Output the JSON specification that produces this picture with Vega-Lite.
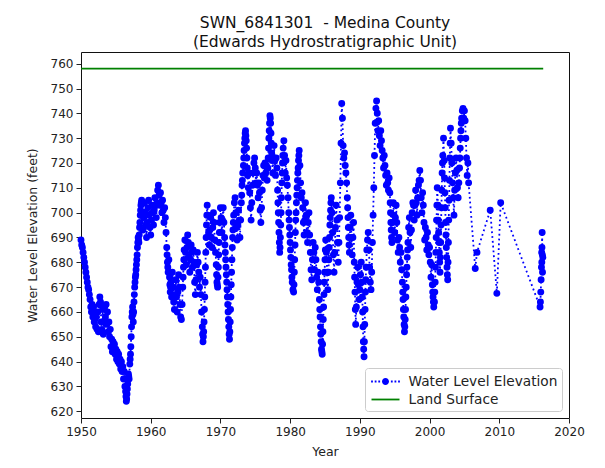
{
 "$schema": "https://vega.github.io/schema/vega-lite/v6.json",
 "width": 488,
 "height": 366,
 "autosize": {"type": "none"},
 "padding": {"left": 81, "top": 52, "right": 36, "bottom": 50},
 "background": "white",
 "title": {"text": ["SWN_6841301\u00a0 - Medina County", "(Edwards Hydrostratigraphic Unit)"], "font": "DejaVu Sans", "fontSize": 15.5, "fontWeight": "normal", "color": "#111", "lineHeight": 19, "offset": 2, "anchor": "middle"},
 "config": {
  "view": {"stroke": "#111", "strokeWidth": 1},
  "axis": {"grid": false, "domain": false, "labelFlush": false, "labelFont": "DejaVu Sans", "labelFontSize": 12, "labelColor": "#222", "titleFont": "DejaVu Sans", "titleFontSize": 12.5, "titleFontWeight": "normal", "titleColor": "#222", "tickColor": "#222", "tickSize": 5},
  "legend": {"orient": "bottom-right", "offset": 7, "padding": 4.5, "fillColor": "white", "strokeColor": "#cccccc", "cornerRadius": 3, "labelFont": "DejaVu Sans", "labelFontSize": 13.7, "labelColor": "#222", "symbolSize": 324, "symbolOffset": 7, "labelOffset": 14, "symbolStrokeWidth": 0, "symbolOpacity": 1, "rowPadding": 2}
 },
 "datasets": {
  "land": [{"year": 1950, "level": 758, "series": "Land Surface"}, {"year": 2016.3, "level": 758, "series": "Land Surface"}],
  "water": [
{"year":1950.0,"level":689},{"year":1950.1,"level":687},{"year":1950.2,"level":686},{"year":1950.3,"level":684},{"year":1950.4,"level":682},{"year":1950.5,"level":680},{"year":1950.6,"level":678},{"year":1950.7,"level":676},{"year":1950.8,"level":674},{"year":1950.9,"level":672},
{"year":1951.0,"level":670},{"year":1951.1,"level":669},{"year":1951.2,"level":667},{"year":1951.3,"level":665},{"year":1951.4,"level":662},{"year":1951.5,"level":660},{"year":1951.6,"level":663},{"year":1951.7,"level":658},{"year":1951.8,"level":662},{"year":1951.9,"level":656},
{"year":1952.0,"level":660},{"year":1952.1,"level":654},{"year":1952.2,"level":658},{"year":1952.3,"level":653},{"year":1952.4,"level":660},{"year":1952.5,"level":652},{"year":1952.6,"level":663},{"year":1952.7,"level":666},{"year":1952.8,"level":664},{"year":1952.9,"level":656},
{"year":1953.0,"level":653},{"year":1953.1,"level":661},{"year":1953.2,"level":651},{"year":1953.3,"level":656},{"year":1953.4,"level":662},{"year":1953.5,"level":658},{"year":1953.6,"level":663},{"year":1953.7,"level":655},{"year":1953.8,"level":660},{"year":1953.9,"level":652},
{"year":1954.0,"level":656},{"year":1954.1,"level":650},{"year":1954.2,"level":653},{"year":1954.3,"level":646},{"year":1954.4,"level":649},{"year":1954.5,"level":644},{"year":1954.6,"level":648},{"year":1954.7,"level":645},{"year":1954.8,"level":647},{"year":1954.9,"level":643},
{"year":1955.0,"level":645},{"year":1955.1,"level":641},{"year":1955.2,"level":644},{"year":1955.3,"level":640},{"year":1955.4,"level":643},{"year":1955.5,"level":639},{"year":1955.6,"level":641},{"year":1955.7,"level":637},{"year":1955.8,"level":640},{"year":1955.9,"level":636},
{"year":1956.0,"level":638},{"year":1956.1,"level":633},{"year":1956.2,"level":636},{"year":1956.3,"level":630},{"year":1956.4,"level":628},{"year":1956.5,"level":624},{"year":1956.6,"level":627},{"year":1956.7,"level":631},{"year":1956.8,"level":635},{"year":1956.9,"level":633},
{"year":1957.0,"level":639},{"year":1957.1,"level":643},{"year":1957.2,"level":650},{"year":1957.3,"level":658},{"year":1957.4,"level":662},{"year":1957.5,"level":656},{"year":1957.6,"level":664},{"year":1957.7,"level":670},{"year":1957.8,"level":674},{"year":1957.9,"level":677},
{"year":1958.0,"level":681},{"year":1958.1,"level":686},{"year":1958.2,"level":690},{"year":1958.3,"level":688},{"year":1958.4,"level":694},{"year":1958.5,"level":699},{"year":1958.6,"level":703},{"year":1958.7,"level":705},{"year":1958.8,"level":699},{"year":1958.9,"level":693},
{"year":1959.0,"level":698},{"year":1959.1,"level":704},{"year":1959.2,"level":700},{"year":1959.3,"level":695},{"year":1959.4,"level":690},{"year":1959.5,"level":696},{"year":1959.6,"level":702},{"year":1959.7,"level":705},{"year":1959.8,"level":699},{"year":1959.9,"level":694},
{"year":1960.0,"level":691},{"year":1960.1,"level":697},{"year":1960.2,"level":703},{"year":1960.3,"level":700},{"year":1960.4,"level":695},{"year":1960.5,"level":701},{"year":1960.6,"level":706},{"year":1960.7,"level":703},{"year":1960.8,"level":698},{"year":1960.9,"level":704},
{"year":1961.0,"level":709},{"year":1961.1,"level":711},{"year":1961.2,"level":707},{"year":1961.3,"level":703},{"year":1961.4,"level":708},{"year":1961.5,"level":704},{"year":1961.6,"level":700},{"year":1961.7,"level":705},{"year":1961.8,"level":701},{"year":1961.9,"level":696},
{"year":1962.0,"level":702},{"year":1962.1,"level":698},{"year":1962.2,"level":692},{"year":1962.3,"level":686},{"year":1962.4,"level":680},{"year":1962.5,"level":676},{"year":1962.6,"level":681},{"year":1962.7,"level":674},{"year":1962.8,"level":668},{"year":1962.9,"level":672},
{"year":1963.0,"level":666},{"year":1963.1,"level":676},{"year":1963.2,"level":670},{"year":1963.3,"level":664},{"year":1963.4,"level":661},{"year":1963.5,"level":667},{"year":1963.6,"level":673},{"year":1963.7,"level":666},{"year":1963.8,"level":660},{"year":1963.9,"level":668},
{"year":1964.0,"level":675},{"year":1964.1,"level":670},{"year":1964.2,"level":663},{"year":1964.3,"level":658},{"year":1964.4,"level":657},{"year":1964.5,"level":663},{"year":1964.6,"level":670},{"year":1964.7,"level":678},{"year":1964.8,"level":685},{"year":1964.9,"level":689},
{"year":1965.0,"level":684},{"year":1965.1,"level":679},{"year":1965.2,"level":686},{"year":1965.3,"level":691},{"year":1965.4,"level":688},{"year":1965.5,"level":682},{"year":1965.6,"level":676},{"year":1965.7,"level":681},{"year":1965.8,"level":687},{"year":1965.9,"level":684},
{"year":1966.0,"level":678},{"year":1966.1,"level":685},{"year":1966.2,"level":680},{"year":1966.3,"level":672},{"year":1966.4,"level":667},{"year":1966.5,"level":673},{"year":1966.6,"level":679},{"year":1966.7,"level":684},{"year":1966.8,"level":680},{"year":1966.9,"level":676},
{"year":1967.0,"level":670},{"year":1967.1,"level":674},{"year":1967.2,"level":667},{"year":1967.3,"level":660},{"year":1967.4,"level":654},{"year":1967.5,"level":648},{"year":1967.6,"level":652},{"year":1967.7,"level":661},{"year":1967.8,"level":672},{"year":1967.9,"level":684},
{"year":1968.0,"level":695},{"year":1968.1,"level":703},{"year":1968.2,"level":699},{"year":1968.3,"level":692},{"year":1968.4,"level":687},{"year":1968.5,"level":693},{"year":1968.6,"level":698},{"year":1968.7,"level":690},{"year":1968.8,"level":686},{"year":1968.9,"level":694},
{"year":1969.0,"level":700},{"year":1969.1,"level":696},{"year":1969.2,"level":689},{"year":1969.3,"level":684},{"year":1969.4,"level":679},{"year":1969.5,"level":672},{"year":1969.6,"level":670},{"year":1969.7,"level":678},{"year":1969.8,"level":688},{"year":1969.9,"level":696},
{"year":1970.0,"level":702},{"year":1970.1,"level":698},{"year":1970.2,"level":692},{"year":1970.3,"level":697},{"year":1970.4,"level":702},{"year":1970.5,"level":696},{"year":1970.6,"level":690},{"year":1970.7,"level":684},{"year":1970.8,"level":678},{"year":1970.9,"level":672},
{"year":1971.0,"level":666},{"year":1971.1,"level":660},{"year":1971.2,"level":654},{"year":1971.3,"level":649},{"year":1971.4,"level":656},{"year":1971.5,"level":666},{"year":1971.6,"level":676},{"year":1971.7,"level":686},{"year":1971.8,"level":693},{"year":1971.9,"level":699},
{"year":1972.0,"level":704},{"year":1972.1,"level":706},{"year":1972.2,"level":700},{"year":1972.3,"level":694},{"year":1972.4,"level":689},{"year":1972.5,"level":695},{"year":1972.6,"level":701},{"year":1972.7,"level":697},{"year":1972.8,"level":690},{"year":1972.9,"level":697},
{"year":1973.0,"level":704},{"year":1973.1,"level":711},{"year":1973.2,"level":716},{"year":1973.3,"level":719},{"year":1973.4,"level":725},{"year":1973.5,"level":730},{"year":1973.6,"level":733},{"year":1973.7,"level":729},{"year":1973.8,"level":722},{"year":1973.9,"level":715},
{"year":1974.0,"level":710},{"year":1974.1,"level":716},{"year":1974.2,"level":708},{"year":1974.3,"level":702},{"year":1974.4,"level":697},{"year":1974.5,"level":704},{"year":1974.6,"level":711},{"year":1974.7,"level":716},{"year":1974.8,"level":720},{"year":1974.9,"level":722},
{"year":1975.0,"level":718},{"year":1975.1,"level":712},{"year":1975.2,"level":716},{"year":1975.3,"level":711},{"year":1975.4,"level":706},{"year":1975.5,"level":712},{"year":1975.6,"level":708},{"year":1975.7,"level":701},{"year":1975.8,"level":696},{"year":1975.9,"level":702},
{"year":1976.0,"level":709},{"year":1976.1,"level":715},{"year":1976.2,"level":719},{"year":1976.3,"level":714},{"year":1976.4,"level":720},{"year":1976.5,"level":716},{"year":1976.6,"level":719},{"year":1976.7,"level":713},{"year":1976.8,"level":718},{"year":1976.9,"level":726},
{"year":1977.0,"level":733},{"year":1977.1,"level":739},{"year":1977.2,"level":736},{"year":1977.3,"level":728},{"year":1977.4,"level":721},{"year":1977.5,"level":716},{"year":1977.6,"level":722},{"year":1977.7,"level":727},{"year":1977.8,"level":721},{"year":1977.9,"level":715},
{"year":1978.0,"level":722},{"year":1978.1,"level":718},{"year":1978.2,"level":709},{"year":1978.3,"level":700},{"year":1978.4,"level":692},{"year":1978.5,"level":684},{"year":1978.6,"level":690},{"year":1978.7,"level":700},{"year":1978.8,"level":712},{"year":1978.9,"level":720},
{"year":1979.0,"level":726},{"year":1979.1,"level":729},{"year":1979.2,"level":723},{"year":1979.3,"level":716},{"year":1979.4,"level":721},{"year":1979.5,"level":714},{"year":1979.6,"level":711},{"year":1979.7,"level":706},{"year":1979.8,"level":700},{"year":1979.9,"level":694},
{"year":1980.0,"level":688},{"year":1980.1,"level":682},{"year":1980.2,"level":677},{"year":1980.3,"level":672},{"year":1980.4,"level":669},{"year":1980.5,"level":668},{"year":1980.6,"level":676},{"year":1980.7,"level":687},{"year":1980.8,"level":697},{"year":1980.9,"level":704},
{"year":1981.0,"level":710},{"year":1981.1,"level":716},{"year":1981.2,"level":721},{"year":1981.3,"level":725},{"year":1981.4,"level":719},{"year":1981.5,"level":712},{"year":1981.6,"level":706},{"year":1981.7,"level":708},{"year":1981.8,"level":702},{"year":1981.9,"level":696},
{"year":1982.0,"level":691},{"year":1982.1,"level":697},{"year":1982.2,"level":704},{"year":1982.3,"level":699},{"year":1982.4,"level":692},{"year":1982.5,"level":688},{"year":1982.6,"level":696},{"year":1982.7,"level":700},{"year":1982.8,"level":691},{"year":1982.9,"level":684},
{"year":1983.0,"level":677},{"year":1983.1,"level":673},{"year":1983.2,"level":681},{"year":1983.3,"level":688},{"year":1983.4,"level":684},{"year":1983.5,"level":677},{"year":1983.6,"level":686},{"year":1983.7,"level":681},{"year":1983.8,"level":674},{"year":1983.9,"level":669},
{"year":1984.0,"level":676},{"year":1984.1,"level":672},{"year":1984.2,"level":665},{"year":1984.3,"level":658},{"year":1984.4,"level":651},{"year":1984.5,"level":645},{"year":1984.6,"level":643},{"year":1984.7,"level":652},{"year":1984.8,"level":662},{"year":1984.9,"level":672},
{"year":1985.0,"level":681},{"year":1985.1,"level":689},{"year":1985.2,"level":684},{"year":1985.3,"level":676},{"year":1985.4,"level":669},{"year":1985.5,"level":676},{"year":1985.6,"level":686},{"year":1985.7,"level":695},{"year":1985.8,"level":701},{"year":1985.9,"level":706},
{"year":1986.0,"level":700},{"year":1986.1,"level":692},{"year":1986.2,"level":683},{"year":1986.3,"level":676},{"year":1986.4,"level":684},{"year":1986.5,"level":694},{"year":1986.6,"level":703},{"year":1986.7,"level":697},{"year":1986.8,"level":688},{"year":1986.9,"level":680},
{"year":1987.0,"level":688},{"year":1987.1,"level":698},{"year":1987.2,"level":712},{"year":1987.3,"level":728},{"year":1987.4,"level":744},{"year":1987.5,"level":738},{"year":1987.6,"level":727},{"year":1987.7,"level":722},{"year":1987.8,"level":724},{"year":1987.9,"level":719},
{"year":1988.0,"level":716},{"year":1988.1,"level":712},{"year":1988.2,"level":706},{"year":1988.3,"level":698},{"year":1988.4,"level":690},{"year":1988.5,"level":684},{"year":1988.6,"level":694},{"year":1988.7,"level":699},{"year":1988.8,"level":690},{"year":1988.9,"level":683},
{"year":1989.0,"level":690},{"year":1989.1,"level":696},{"year":1989.2,"level":680},{"year":1989.3,"level":668},{"year":1989.4,"level":655},{"year":1989.5,"level":662},{"year":1989.6,"level":672},{"year":1989.7,"level":678},{"year":1989.8,"level":671},{"year":1989.9,"level":665},
{"year":1990.0,"level":669},{"year":1990.1,"level":675},{"year":1990.2,"level":680},{"year":1990.3,"level":672},{"year":1990.4,"level":660},{"year":1990.5,"level":648},{"year":1990.6,"level":642},{"year":1990.7,"level":655},{"year":1990.8,"level":668},{"year":1990.9,"level":678},
{"year":1991.0,"level":685},{"year":1991.1,"level":689},{"year":1991.2,"level":692},{"year":1991.3,"level":685},{"year":1991.4,"level":678},{"year":1991.5,"level":672},{"year":1991.6,"level":669},{"year":1991.7,"level":676},{"year":1991.8,"level":688},{"year":1991.9,"level":699},
{"year":1992.0,"level":710},{"year":1992.1,"level":723},{"year":1992.2,"level":736},{"year":1992.3,"level":742},{"year":1992.4,"level":745},{"year":1992.5,"level":740},{"year":1992.6,"level":733},{"year":1992.7,"level":737},{"year":1992.8,"level":731},{"year":1992.9,"level":727},
{"year":1993.0,"level":733},{"year":1993.1,"level":729},{"year":1993.2,"level":725},{"year":1993.3,"level":722},{"year":1993.4,"level":718},{"year":1993.5,"level":723},{"year":1993.6,"level":719},{"year":1993.7,"level":715},{"year":1993.8,"level":711},{"year":1993.9,"level":716},
{"year":1994.0,"level":712},{"year":1994.1,"level":709},{"year":1994.2,"level":714},{"year":1994.3,"level":708},{"year":1994.4,"level":700},{"year":1994.5,"level":693},{"year":1994.6,"level":688},{"year":1994.7,"level":696},{"year":1994.8,"level":704},{"year":1994.9,"level":699},
{"year":1995.0,"level":692},{"year":1995.1,"level":698},{"year":1995.2,"level":703},{"year":1995.3,"level":696},{"year":1995.4,"level":689},{"year":1995.5,"level":684},{"year":1995.6,"level":690},{"year":1995.7,"level":686},{"year":1995.8,"level":680},{"year":1995.9,"level":684},
{"year":1996.0,"level":677},{"year":1996.1,"level":672},{"year":1996.2,"level":665},{"year":1996.3,"level":658},{"year":1996.4,"level":652},{"year":1996.5,"level":657},{"year":1996.6,"level":666},{"year":1996.7,"level":675},{"year":1996.8,"level":682},{"year":1996.9,"level":688},
{"year":1997.0,"level":694},{"year":1997.1,"level":698},{"year":1997.2,"level":692},{"year":1997.3,"level":686},{"year":1997.4,"level":693},{"year":1997.5,"level":700},{"year":1997.6,"level":704},{"year":1997.7,"level":703},{"year":1997.8,"level":697},{"year":1997.9,"level":703},
{"year":1998.0,"level":709},{"year":1998.1,"level":704},{"year":1998.2,"level":699},{"year":1998.3,"level":706},{"year":1998.4,"level":711},{"year":1998.5,"level":713},{"year":1998.6,"level":717},{"year":1998.7,"level":713},{"year":1998.8,"level":706},{"year":1998.9,"level":700},
{"year":1999.0,"level":708},{"year":1999.1,"level":703},{"year":1999.2,"level":696},{"year":1999.3,"level":689},{"year":1999.4,"level":694},{"year":1999.5,"level":690},{"year":1999.6,"level":685},{"year":1999.7,"level":692},{"year":1999.8,"level":687},{"year":1999.9,"level":683},
{"year":2000.0,"level":686},{"year":2000.1,"level":680},{"year":2000.2,"level":674},{"year":2000.3,"level":679},{"year":2000.4,"level":671},{"year":2000.5,"level":666},{"year":2000.6,"level":662},{"year":2000.7,"level":664},{"year":2000.8,"level":672},{"year":2000.9,"level":684},
{"year":2001.0,"level":697},{"year":2001.1,"level":710},{"year":2001.2,"level":703},{"year":2001.3,"level":692},{"year":2001.4,"level":684},{"year":2001.5,"level":676},{"year":2001.6,"level":688},{"year":2001.7,"level":702},{"year":2001.8,"level":716},{"year":2001.9,"level":723},
{"year":2002.0,"level":730},{"year":2002.1,"level":721},{"year":2002.2,"level":708},{"year":2002.3,"level":696},{"year":2002.4,"level":686},{"year":2002.5,"level":678},{"year":2002.6,"level":673},{"year":2002.7,"level":688},{"year":2002.8,"level":705},{"year":2002.9,"level":722},
{"year":2003.0,"level":734},{"year":2003.1,"level":728},{"year":2003.2,"level":720},{"year":2003.3,"level":712},{"year":2003.4,"level":706},{"year":2003.5,"level":699},{"year":2003.6,"level":709},{"year":2003.7,"level":716},{"year":2003.8,"level":722},{"year":2003.9,"level":717},
{"year":2004.0,"level":710},{"year":2004.1,"level":706},{"year":2004.2,"level":712},{"year":2004.3,"level":718},{"year":2004.4,"level":726},{"year":2004.5,"level":733},{"year":2004.6,"level":738},{"year":2004.7,"level":741},{"year":2004.8,"level":742},{"year":2004.9,"level":738},
{"year":2005.0,"level":741},{"year":2005.1,"level":737},{"year":2005.2,"level":730},{"year":2005.3,"level":722},{"year":2005.4,"level":715},{"year":2005.5,"level":720},{"year":2005.6,"level":712},
{"year":2006.55,"level":677.5},{"year":2006.8,"level":684},{"year":2008.7,"level":701},{"year":2009.65,"level":667.5},{"year":2010.2,"level":704},
{"year":2015.85,"level":662},{"year":2015.9,"level":664},{"year":2015.95,"level":668},{"year":2016.0,"level":673},{"year":2016.05,"level":678},{"year":2016.08,"level":684},{"year":2016.1,"level":680},{"year":2016.12,"level":686},{"year":2016.15,"level":692},{"year":2016.18,"level":683},{"year":2016.2,"level":676},{"year":2016.25,"level":682},
{"year":1956.45,"level":626},{"year":1956.55,"level":625},{"year":1956.65,"level":629},{"year":1956.75,"level":633},{"year":1956.85,"level":634},
{"year":1957.05,"level":641},{"year":1957.15,"level":646},{"year":1957.25,"level":654},{"year":1957.35,"level":660},{"year":1957.45,"level":659},{"year":1957.55,"level":660},{"year":1957.65,"level":667},{"year":1957.75,"level":672},{"year":1957.85,"level":675},{"year":1957.95,"level":679},
{"year":1958.05,"level":683},{"year":1958.15,"level":688},{"year":1958.25,"level":689},{"year":1958.35,"level":691},{"year":1958.45,"level":696},{"year":1958.55,"level":701},{"year":1958.65,"level":704},
{"year":1962.35,"level":683},{"year":1962.45,"level":678},{"year":1962.75,"level":671},{"year":1962.85,"level":670},{"year":1964.65,"level":674},{"year":1964.75,"level":681},
{"year":1967.45,"level":651},{"year":1967.55,"level":650},{"year":1967.65,"level":656},{"year":1967.75,"level":666},{"year":1967.85,"level":678},{"year":1967.95,"level":690},{"year":1968.05,"level":699},
{"year":1969.45,"level":675},{"year":1969.55,"level":671},{"year":1969.65,"level":674},{"year":1969.75,"level":683},{"year":1969.85,"level":692},
{"year":1970.65,"level":687},{"year":1970.75,"level":681},{"year":1970.85,"level":675},{"year":1970.95,"level":669},{"year":1971.05,"level":663},{"year":1971.15,"level":657},
{"year":1971.25,"level":651},{"year":1971.35,"level":652},{"year":1971.45,"level":661},{"year":1971.55,"level":671},{"year":1971.65,"level":681},{"year":1971.75,"level":690},{"year":1971.85,"level":696},
{"year":1973.05,"level":707},{"year":1973.15,"level":713},{"year":1973.35,"level":722},{"year":1973.45,"level":728},{"year":1973.55,"level":732},{"year":1973.65,"level":731},{"year":1973.75,"level":726},{"year":1973.85,"level":718},
{"year":1976.85,"level":722},{"year":1976.95,"level":730},{"year":1977.05,"level":736},{"year":1977.15,"level":738},{"year":1977.25,"level":732},{"year":1977.35,"level":724},
{"year":1978.25,"level":704},{"year":1978.35,"level":696},{"year":1978.45,"level":688},{"year":1978.55,"level":686},{"year":1978.65,"level":695},{"year":1978.75,"level":706},{"year":1978.85,"level":716},{"year":1978.95,"level":723},
{"year":1979.85,"level":697},{"year":1979.95,"level":691},{"year":1980.05,"level":685},{"year":1980.15,"level":679},{"year":1980.25,"level":674},{"year":1980.55,"level":671},{"year":1980.65,"level":681},{"year":1980.75,"level":692},{"year":1980.85,"level":700},{"year":1980.95,"level":707},{"year":1981.05,"level":713},{"year":1981.15,"level":718},{"year":1981.25,"level":723},
{"year":1984.25,"level":661},{"year":1984.35,"level":654},{"year":1984.45,"level":648},{"year":1984.55,"level":644},{"year":1984.65,"level":647},{"year":1984.75,"level":657},{"year":1984.85,"level":667},{"year":1984.95,"level":676},{"year":1985.05,"level":685},
{"year":1985.55,"level":681},{"year":1985.65,"level":690},{"year":1985.75,"level":698},{"year":1985.85,"level":704},
{"year":1988.25,"level":702},{"year":1988.35,"level":694},{"year":1988.45,"level":687},{"year":1989.25,"level":674},{"year":1989.35,"level":661},
{"year":1990.35,"level":666},{"year":1990.45,"level":654},{"year":1990.55,"level":645},{"year":1990.65,"level":648},{"year":1990.75,"level":661},{"year":1990.85,"level":673},
{"year":1994.35,"level":704},{"year":1994.45,"level":696},{"year":1994.55,"level":690},
{"year":1996.15,"level":668},{"year":1996.25,"level":661},{"year":1996.35,"level":655},{"year":1996.45,"level":654},{"year":1996.55,"level":661},{"year":1996.65,"level":670},{"year":1996.75,"level":678},{"year":1996.85,"level":685},
{"year":2000.45,"level":668},{"year":2000.55,"level":664},{"year":2000.75,"level":668},{"year":2000.85,"level":678},{"year":2000.95,"level":690},{"year":2001.05,"level":703},
{"year":2001.25,"level":697},{"year":2001.35,"level":688},{"year":2001.45,"level":680},{"year":2001.55,"level":682},{"year":2001.65,"level":695},{"year":2001.75,"level":709},{"year":2001.85,"level":720},
{"year":2002.15,"level":714},{"year":2002.25,"level":702},{"year":2002.35,"level":691},{"year":2002.45,"level":682},{"year":2002.55,"level":675},{"year":2002.65,"level":680},{"year":2002.75,"level":697},{"year":2002.85,"level":713},{"year":2002.95,"level":728},
{"year":2004.35,"level":722},{"year":2004.45,"level":730},{"year":2004.55,"level":736}
  ]
 },
 "encoding": {
  "x": {"field": "year", "type": "quantitative", "scale": {"domain": [1950, 2020], "nice": false, "zero": false}, "axis": {"values": [1950, 1960, 1970, 1980, 1990, 2000, 2010, 2020], "format": "d", "title": "Year", "labelPadding": 3, "titlePadding": 8}},
  "y": {"field": "level", "type": "quantitative", "scale": {"domain": [617.3, 764.7], "nice": false, "zero": false}, "axis": {"values": [620, 630, 640, 650, 660, 670, 680, 690, 700, 710, 720, 730, 740, 750, 760], "title": "Water Level Elevation (feet)", "labelPadding": 3, "titlePadding": 11}}
 },
 "layer": [
  {"data": {"name": "water"}, "mark": {"type": "line", "color": "#0000ff", "strokeWidth": 1.8, "strokeDash": [1.8, 3]}},
  {"data": {"name": "water"}, "mark": {"type": "circle", "color": "#0000ff", "size": 48, "opacity": 1}},
  {"data": {"name": "land"}, "mark": {"type": "line", "color": "#008000", "strokeWidth": 1.8}},
  {"data": {"name": "land"}, "mark": {"type": "point", "filled": true, "opacity": 0},
   "encoding": {
    "color": {"field": "series", "type": "nominal", "scale": {"domain": ["Water Level Elevation", "Land Surface"], "range": ["#0000ff", "#008000"]}, "legend": {"title": null}},
    "shape": {"field": "series", "type": "nominal", "scale": {"domain": ["Water Level Elevation", "Land Surface"], "range": ["M-1.6,-0.1h0.2v0.2h-0.2z M-1.2,-0.1h0.2v0.2h-0.2z M-0.8,-0.1h0.2v0.2h-0.2z M0.6,-0.1h0.2v0.2h-0.2z M1.0,-0.1h0.2v0.2h-0.2z M1.4,-0.1h0.2v0.2h-0.2z M-0.39,0a0.39,0.39 0 1,0 0.78,0a0.39,0.39 0 1,0 -0.78,0z", "M-1.556,-0.1H1.556V0.1H-1.556Z"]}, "legend": {"title": null}}
   }}
 ]
}
